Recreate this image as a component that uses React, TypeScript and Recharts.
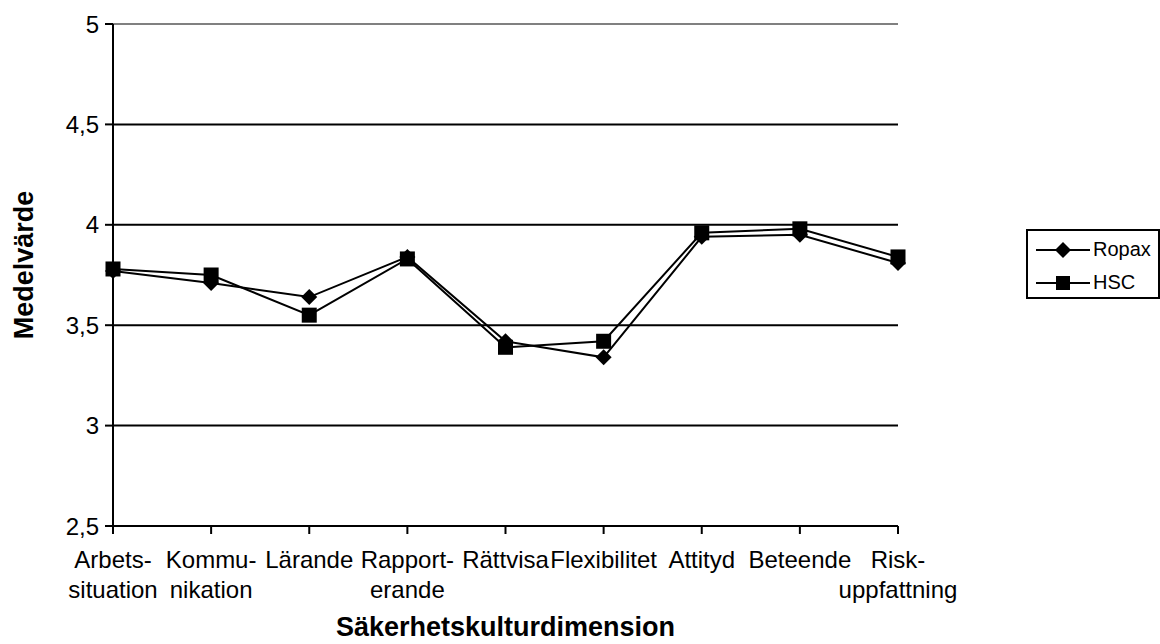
import React from "react"
import {
	LineChart,
	Line,
	XAxis,
	YAxis,
	CartesianGrid,
	Legend,
	ReferenceLine,
} from "recharts"

const categories = [
	"Arbets-\nsituation",
	"Kommu-\nnikation",
	"Lärande",
	"Rapport-\nerande",
	"Rättvisa",
	"Flexibilitet",
	"Attityd",
	"Beteende",
	"Risk-\nuppfattning",
]
const ropax = [3.77, 3.71, 3.64, 3.84, 3.42, 3.34, 3.94, 3.95, 3.81]
const hsc = [3.78, 3.75, 3.55, 3.83, 3.39, 3.42, 3.96, 3.98, 3.84]
const seriesNames = ["Ropax", "HSC"]
const yTicks = [2.5, 3, 3.5, 4, 4.5, 5]

const data = categories.map((name, i) => ({ name, Ropax: ropax[i], HSC: hsc[i] }))

const FONT = "'Liberation Sans', Arial, sans-serif"

const DiamondDot = (props: any) => {
	const { cx, cy, index } = props
	const r = 8
	return (
		<polygon
			key={`d-${index}`}
			points={`${cx},${cy - r} ${cx + r},${cy} ${cx},${cy + r} ${cx - r},${cy}`}
			fill="#000"
		/>
	)
}

const SquareDot = (props: any) => {
	const { cx, cy, index } = props
	const s = 15
	return <rect key={`s-${index}`} x={cx - s / 2} y={cy - s / 2} width={s} height={s} fill="#000" />
}

const CategoryTick = (props: any) => {
	const { x, y, payload } = props
	const lines = String(payload.value).split("\n")
	return (
		<text x={x} y={y} textAnchor="middle" fill="#000" fontSize={24} fontFamily={FONT}>
			{lines.map((l, i) => (
				<tspan key={i} x={x} dy={i === 0 ? 32 : 30}>
					{l}
				</tspan>
			))}
		</text>
	)
}

const LegendBox = (props: any) => {
	const items = [...(props.payload || [])].sort(
		(a: any, b: any) => seriesNames.indexOf(a.value) - seriesNames.indexOf(b.value)
	)
	return (
		<div
			style={{
				border: "2px solid #000",
				boxSizing: "border-box",
				width: 134,
				height: 70,
				padding: "2px 0 0 6px",
				background: "#fff",
				fontFamily: FONT,
				fontSize: 20,
			}}
		>
			{items.map((entry: any) => (
				<div key={entry.value} style={{ display: "flex", alignItems: "center", height: 33 }}>
					<svg width={58} height={20}>
						<line x1={2} y1={10} x2={56} y2={10} stroke="#000" strokeWidth={2} />
						{entry.value === "Ropax" ? (
							<polygon points="29,2 37,10 29,18 21,10" fill="#000" />
						) : (
							<rect x={22} y={3} width={14} height={14} fill="#000" />
						)}
					</svg>
					<span style={{ marginLeft: 1 }}>{entry.value}</span>
				</div>
			))}
		</div>
	)
}

const App = () => (
	<div style={{ position: "absolute", left: 0, top: 0, background: "#fff" }}>
		<LineChart
			width={1160}
			height={644}
			data={data}
			margin={{ top: 24, right: 262, bottom: 58, left: 33 }}
		>
			<CartesianGrid vertical={false} stroke="#000" strokeWidth={2} />
			<ReferenceLine y={5} stroke="#808080" strokeWidth={2} />
			<XAxis
				dataKey="name"
				interval={0}
				height={60}
				axisLine={{ stroke: "#000", strokeWidth: 2 }}
				tickLine={{ stroke: "#000", strokeWidth: 2 }}
				tickSize={8}
				tick={<CategoryTick />}
				label={{
					content: (p: any) => (
						<text
							x={p.viewBox.x + p.viewBox.width / 2}
							y={636}
							textAnchor="middle"
							fontSize={27}
							fontWeight="bold"
							fontFamily={FONT}
							fill="#000"
						>
							Säkerhetskulturdimension
						</text>
					),
				}}
			/>
			<YAxis
				domain={[2.5, 5]}
				ticks={yTicks}
				width={80}
				axisLine={{ stroke: "#000", strokeWidth: 2 }}
				tickLine={{ stroke: "#000", strokeWidth: 2 }}
				tickSize={8}
				tickMargin={6}
				tick={{ fill: "#000", fontSize: 24, fontFamily: FONT }}
				tickFormatter={(v: number) => String(v).replace(".", ",")}
				label={{
					content: () => (
						<text
							x={0}
							y={0}
							transform="translate(33,265) rotate(-90)"
							textAnchor="middle"
							fontSize={27}
							fontWeight="bold"
							fontFamily={FONT}
							fill="#000"
						>
							Medelvärde
						</text>
					),
				}}
			/>
			<YAxis
				yAxisId="right"
				orientation="right"
				domain={[2.5, 5]}
				width={0}
				tick={false}
				tickLine={false}
				axisLine={{ stroke: "#808080", strokeWidth: 2 }}
			/>
			<Legend
				layout="vertical"
				align="center"
				verticalAlign="middle"
				wrapperStyle={{ left: 1026, top: 229, width: 134, height: 70 }}
				content={<LegendBox />}
			/>
			<Line
				type="linear"
				dataKey="Ropax"
				stroke="#000"
				strokeWidth={2}
				dot={DiamondDot}
				activeDot={false}
				isAnimationActive={false}
			/>
			<Line
				type="linear"
				dataKey="HSC"
				stroke="#000"
				strokeWidth={2}
				dot={SquareDot}
				activeDot={false}
				isAnimationActive={false}
			/>
		</LineChart>
	</div>
)

export default App
